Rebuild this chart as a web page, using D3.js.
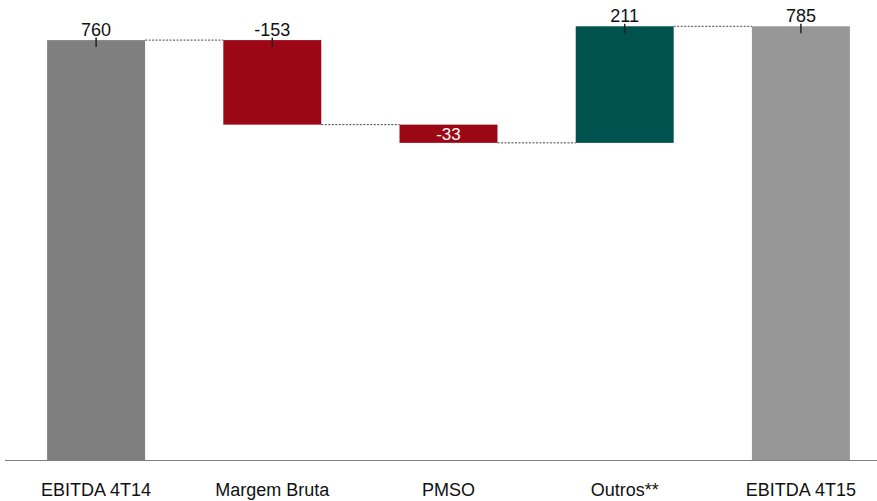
<!DOCTYPE html>
<html><head><meta charset="utf-8">
<script src="https://cdn.jsdelivr.net/npm/d3@7"></script>
<style>body{margin:0;background:#fff}svg{display:block}text{font-family:"Liberation Sans",Arial,sans-serif}</style>
</head><body><svg id="c" width="877" height="501"></svg>
<script>
const categories = ["EBITDA 4T14","Margem Bruta","PMSO","Outros**","EBITDA 4T15"];
const values = [760, -153, -33, 211, 785];
const kinds = ["total","delta","delta","delta","total"];
const colors = ["#7f7f7f","#9c0715","#9c0715","#00524e","#979797"];
const labels = ["760","-153","-33","211","785"];

const svg = d3.select("#c");
const x = d3.scaleBand().domain(categories).range([8,889]).paddingInner(0.444).paddingOuter(0.222);
const y = d3.scaleLinear().domain([0,800]).range([460,18]);

let run = 0;
const bars = categories.map((c,i)=>{
  let y0,y1;
  if(kinds[i]==="total"){ y0=0; y1=values[i]; run=values[i]; }
  else { y0=run; y1=run+values[i]; run=y1; }
  return {c, i, lo:Math.min(y0,y1), hi:Math.max(y0,y1), end:run, v:values[i]};
});

// connectors
for(let i=0;i<bars.length-1;i++){
  const lvl = bars[i].end;
  svg.append("line")
    .attr("x1", x(bars[i].c)+x.bandwidth()).attr("x2", x(bars[i+1].c))
    .attr("y1", y(lvl)).attr("y2", y(lvl))
    .attr("stroke","#444").attr("stroke-width",1).attr("stroke-dasharray","2,1.5");
}

svg.selectAll("rect.b").data(bars).join("rect")
  .attr("x",d=>x(d.c)).attr("width",x.bandwidth())
  .attr("y",d=>y(d.hi)).attr("height",d=>y(d.lo)-y(d.hi))
  .attr("fill",(d,i)=>colors[i]);

// axis baseline
svg.append("line").attr("x1",5).attr("x2",877).attr("y1",y(0)+0.5).attr("y2",y(0)+0.5)
  .attr("stroke","#7f7f7f").attr("stroke-width",1.2);

// value labels
bars.forEach((d,i)=>{
  const cx = x(d.c)+x.bandwidth()/2;
  const inside = (y(d.lo)-y(d.hi)) < 25;
  if(inside){
    svg.append("text").attr("x",cx).attr("y",(y(d.lo)+y(d.hi))/2+6)
      .attr("text-anchor","middle").attr("font-size",17).attr("fill","#fff").text(labels[i]);
  } else {
    svg.append("line").attr("x1",cx).attr("x2",cx).attr("y1",y(d.hi)-2.5).attr("y2",y(d.hi)+7)
      .attr("stroke","#222").attr("stroke-width",1.5);
    svg.append("text").attr("x",cx).attr("y",y(d.hi)-4)
      .attr("text-anchor","middle").attr("font-size",18).attr("fill","#111").text(labels[i]);
  }
});

// category labels
svg.selectAll("text.cat").data(categories).join("text").attr("class","cat")
  .attr("x",d=>x(d)+x.bandwidth()/2).attr("y",496)
  .attr("text-anchor","middle").attr("font-size",18).attr("fill","#111").text(d=>d);
</script></body></html>
